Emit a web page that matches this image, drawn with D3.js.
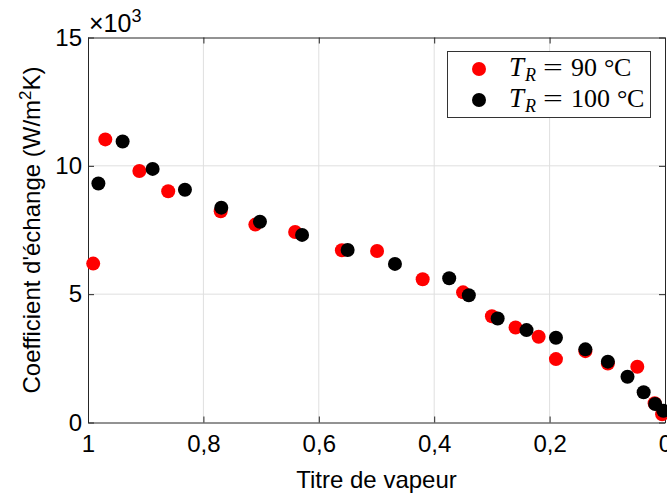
<!DOCTYPE html>
<html><head><meta charset="utf-8">
<script src="https://cdn.jsdelivr.net/npm/d3@7"></script>
<style>body{margin:0;background:#fff}svg{display:block}</style>
</head><body><svg id="c" width="667" height="495"></svg>
<script>
const xTicks = [1, 0.8, 0.6, 0.4, 0.2, 0];
const yTicks = [0, 5, 10, 15];
const seriesNames = ["90", "100"];
const seriesColors = ["#ff0000", "#000000"];
// Titre de vapeur / coefficient (x10^3 W/m2K)
const red90X = [0.991,0.970,0.911,0.861,0.770,0.710,0.641,0.560,0.499,0.420,0.350,0.300,0.259,0.219,0.189,0.138,0.099,0.048,0.018,0.005];
const red90Y = [6.19,11.03,9.80,9.01,8.23,7.71,7.42,6.71,6.68,5.58,5.07,4.14,3.70,3.34,2.47,2.78,2.30,2.17,0.75,0.32];
const blk100X = [0.982,0.940,0.888,0.832,0.769,0.702,0.629,0.550,0.468,0.374,0.340,0.290,0.240,0.189,0.138,0.099,0.065,0.037,0.017,0.003];
const blk100Y = [9.31,10.95,9.88,9.07,8.37,7.82,7.31,6.72,6.18,5.62,4.96,4.05,3.60,3.30,2.85,2.37,1.78,1.18,0.72,0.46];

const svg = d3.select("#c");
svg.append("rect").attr("width",667).attr("height",495).attr("fill","#fff");
const L=88, R=665, T=37.5, B=422.5;
const x = d3.scaleLinear().domain([1,0]).range([L,R]);
const y = d3.scaleLinear().domain([0,15]).range([B,T]);
const fmt = d => String(d).replace(".", ",");
const font = "'Liberation Sans', Arial, Helvetica, sans-serif";
const axisCol = "#262626";

// grid
const g = svg.append("g");
g.selectAll(".gx").data(xTicks.filter(d=>d>0&&d<1)).enter().append("line")
  .attr("x1",d=>x(d)).attr("x2",d=>x(d)).attr("y1",T).attr("y2",B)
  .attr("stroke","#dfdfdf").attr("stroke-width",1);
g.selectAll(".gy").data(yTicks.filter(d=>d>0&&d<15)).enter().append("line")
  .attr("y1",d=>y(d)).attr("y2",d=>y(d)).attr("x1",L).attr("x2",R)
  .attr("stroke","#dfdfdf").attr("stroke-width",1);

function styleAxis(sel){
  sel.select(".domain").attr("stroke",axisCol);
  sel.selectAll(".tick line").attr("stroke",axisCol);
  sel.selectAll("text").attr("fill","#000").style("font-family",font).style("font-size","24px");
}
const ax = svg.append("g").attr("transform",`translate(0,${B})`)
  .call(d3.axisBottom(x).tickValues(xTicks).tickFormat(fmt).tickSize(-6).tickSizeOuter(0).tickPadding(12));
styleAxis(ax);
const ay = svg.append("g").attr("transform",`translate(${L},0)`)
  .call(d3.axisLeft(y).tickValues(yTicks).tickFormat(d3.format("d")).tickSize(-6).tickSizeOuter(0).tickPadding(6));
styleAxis(ay);
const axt = svg.append("g").attr("transform",`translate(0,${T})`)
  .call(d3.axisTop(x).tickValues(xTicks).tickFormat("").tickSize(-6).tickSizeOuter(0));
styleAxis(axt);
const ayr = svg.append("g").attr("transform",`translate(${R},0)`)
  .call(d3.axisRight(y).tickValues(yTicks).tickFormat("").tickSize(-6).tickSizeOuter(0));
styleAxis(ayr);

// exponent
const ex = svg.append("text").attr("x",89).attr("y",32).style("font-family",font).style("font-size","25px").attr("fill","#000");
ex.append("tspan").text("\u00d710");
ex.append("tspan").attr("dy",-10).style("font-size","18px").text("3");

// axis labels
svg.append("text").attr("x",(L+R)/2).attr("y",488).attr("text-anchor","middle")
  .style("font-family",font).style("font-size","24px").text("Titre de vapeur");
const yl = svg.append("text").attr("transform",`translate(40,${(T+B)/2}) rotate(-90)`).attr("text-anchor","middle")
  .style("font-family",font).style("font-size","24px");
yl.append("tspan").text("Coefficient d'échange (W/m");
yl.append("tspan").attr("dy",-9).style("font-size","17px").text("2");
yl.append("tspan").attr("dy",9).text("K)");

// points
const sets = [red90X.map((v,i)=>({x:v,y:red90Y[i]})), blk100X.map((v,i)=>({x:v,y:blk100Y[i]}))];
sets.forEach((s,k)=>{
  svg.append("g").selectAll("circle").data(s).enter().append("circle")
    .attr("cx",d=>x(d.x)).attr("cy",d=>y(d.y)).attr("r",7).attr("fill",seriesColors[k]);
});

// legend
const lg = svg.append("g");
lg.append("rect").attr("x",447.5).attr("y",51.5).attr("width",203).attr("height",66)
  .attr("fill","#fff").attr("stroke","#333").attr("stroke-width",1);
const serif = "'Liberation Serif','Times New Roman',serif";
seriesNames.forEach((nm,k)=>{
  const cy = 69 + k*31;
  lg.append("circle").attr("cx",479).attr("cy",cy).attr("r",7).attr("fill",seriesColors[k]);
  const base = cy + 7;
  lg.append("text").attr("x",509).attr("y",base).style("font-family",serif).style("font-size","27px").style("font-style","italic").text("T");
  lg.append("text").attr("x",525).attr("y",base+5).style("font-family",serif).style("font-size","18px").style("font-style","italic").text("R");
  lg.append("text").attr("transform",`translate(543,${base}) scale(1.35,1)`).style("font-family",serif).style("font-size","26px").text("=");
  lg.append("text").attr("x",571).attr("y",base).style("font-family",serif).style("font-size","26px").text(nm);
  const nx = nm.length===2 ? 604 : 617;
  lg.append("text").attr("x",nx).attr("y",base).style("font-family",serif).style("font-size","26px").text("\u00b0");
  lg.append("text").attr("x",nx+10).attr("y",base).style("font-family",serif).style("font-size","26px").text("C");
});
</script></body></html>
